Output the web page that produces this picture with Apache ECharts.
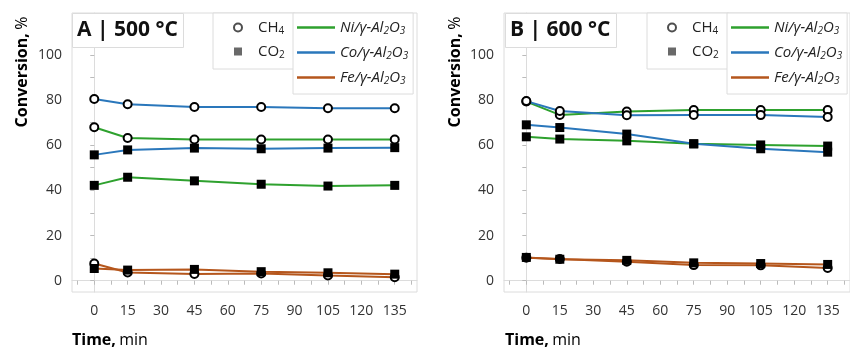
<!DOCTYPE html>
<html>
<head>
<meta charset="utf-8">
<style>
  html, body { margin: 0; padding: 0; background: #fff; }
  #main { width: 850px; height: 350px; }
</style>
</head>
<body>
<div id="main"></div>
<script src="https://cdn.jsdelivr.net/npm/echarts@6/dist/echarts.min.js"></script>
<script type="text/javascript">
    // time points, min
    var times = [0, 15, 45, 75, 105, 135];
    var xTickLabels = [0, 15, 30, 45, 60, 75, 90, 105, 120, 135];
    var yTickLabels = [0, 20, 40, 60, 80, 100];

    // A | 500 °C
    var niCH4_A = [67.9, 63.2, 62.5, 62.5, 62.5, 62.5];
    var niCO2_A = [42.2, 45.8, 44.2, 42.7, 41.9, 42.2];
    var coCH4_A = [80.4, 78.1, 76.9, 76.9, 76.3, 76.3];
    var coCO2_A = [55.7, 57.9, 58.7, 58.4, 58.7, 58.9];
    var feCH4_A = [7.6, 3.6, 3.0, 3.2, 2.3, 1.5];
    var feCO2_A = [5.4, 4.7, 5.0, 4.0, 3.5, 2.9];

    // B | 600 °C
    var niCH4_B = [79.3, 73.4, 74.9, 75.6, 75.6, 75.6];
    var niCO2_B = [63.7, 62.7, 61.9, 60.6, 60.1, 59.6];
    var coCH4_B = [79.5, 75.1, 73.2, 73.4, 73.3, 72.5];
    var coCO2_B = [69.0, 67.8, 64.9, 60.6, 58.4, 56.9];
    var feCH4_B = [10.2, 9.6, 8.4, 6.9, 6.8, 5.6];
    var feCO2_B = [10.3, 9.5, 9.0, 7.9, 7.6, 7.2];

    var GREEN = '#2ea12e', BLUE = '#2a77bb', BROWN = '#b5561c';
    var FONT = 'Open Sans';

    function pairs(ys) {
        return times.map(function (t, i) { return [t, ys[i]]; });
    }

    function dataSeries(name, ys, color, gas, idx) {
        return {
            name: name,
            type: 'line',
            xAxisIndex: idx,
            yAxisIndex: idx,
            data: pairs(ys),
            symbol: gas == 'CH4' ? 'circle' : 'rect',
            symbolSize: gas == 'CH4' ? 8 : 9,
            lineStyle: { color: color, width: 2 },
            itemStyle: gas == 'CH4'
                ? { color: '#fff', borderColor: '#000', borderWidth: 2 }
                : { color: '#000', borderColor: '#000', borderWidth: 0 },
            emphasis: { disabled: true },
            animation: false
        };
    }

    // dummy series only for the legends
    function legendLine(name, color) {
        return { name: name, type: 'line', data: [], symbol: 'none',
                 lineStyle: { color: color, width: 2.5 }, itemStyle: { color: color } };
    }
    function legendMark(name, symbol) {
        return { name: name, type: 'scatter', data: [], symbol: symbol,
                 itemStyle: symbol == 'rect'
                     ? { color: '#444' }
                     : { color: '#fff', borderColor: '#222', borderWidth: 1.5 } };
    }

    var richLegend = {
        i: { fontStyle: 'italic', fontSize: 15, fontFamily: FONT, color: '#222', lineHeight: 18 },
        s: { fontStyle: 'italic', fontSize: 10, fontFamily: FONT, color: '#222', padding: [7, 0, 0, 0] },
        n: { fontSize: 15, fontFamily: FONT, color: '#222', lineHeight: 18 },
        m: { fontSize: 10, fontFamily: FONT, color: '#222', padding: [7, 0, 0, 0] }
    };
    function legendFmt(name) {
        if (name == 'CH4') return '{n|CH}{m|4}';
        if (name == 'CO2') return '{n|CO}{m|2}';
        return '{i|' + name + '/γ-Al}{s|2}{i|O}{s|3}';
    }

    function markLegend(left) {
        return {
            left: left, top: 13, width: 80,
            orient: 'vertical',
            padding: [7, 10, 9, 20],
            itemGap: 8,
            itemWidth: 8, itemHeight: 8,
            backgroundColor: '#fff',
            borderColor: '#dcdcdc', borderWidth: 1, borderRadius: 0,
            selectedMode: false,
            data: [{ name: 'CH4', icon: 'circle' }, { name: 'CO2', icon: 'rect' }],
            formatter: legendFmt,
            textStyle: { padding: [0, 0, 0, 11], rich: richLegend }
        };
    }
    function lineLegend(left) {
        return {
            left: left, top: 13,
            orient: 'vertical',
            padding: [7, 5, 8, 4],
            itemGap: 9,
            itemWidth: 38, itemHeight: 2.5,
            icon: 'rect',
            backgroundColor: '#fff',
            borderColor: '#dcdcdc', borderWidth: 1, borderRadius: 0,
            selectedMode: false,
            data: ['Ni', 'Co', 'Fe'],
            formatter: legendFmt,
            textStyle: { padding: [0, 0, 0, 0], rich: richLegend }
        };
    }

    function xAxis(idx) {
        return {
            type: 'value', gridIndex: idx, min: -10, max: 145,
            axisLine: { show: true, lineStyle: { color: '#dcdcdc' } },
            axisTick: { show: true, length: 4, lineStyle: { color: '#bbb' },
                        customValues: [-7.5, 0, 7.5, 15, 22.5, 30, 37.5, 45, 52.5, 60, 67.5, 75, 82.5, 90, 97.5, 105, 112.5, 120, 127.5, 135, 142.5] },
            axisLabel: { customValues: xTickLabels, color: '#333', fontSize: 14, fontFamily: FONT, margin: 12 },
            splitLine: { show: false }
        };
    }
    function yAxis(idx) {
        return {
            type: 'value', gridIndex: idx, min: -5, max: 118.5,
            axisLine: { show: true, lineStyle: { color: '#dcdcdc' } },
            axisTick: { show: true, length: 4, lineStyle: { color: '#bbb' },
                        customValues: [0, 10, 20, 30, 40, 50, 60, 70, 80, 90, 100, 110] },
            axisLabel: { customValues: yTickLabels, color: '#333', fontSize: 14, fontFamily: FONT, margin: 10 },
            splitLine: { show: false }
        };
    }

    function axisTitle(x, y, bold, rest, rotate) {
        return {
            type: 'text', x: x, y: y, rotation: rotate ? Math.PI / 2 : 0,
            style: {
                text: '{b|' + bold + '} {r|' + rest + '}',
                align: rotate ? 'center' : 'left', verticalAlign: 'middle',
                rich: {
                    b: { fontWeight: 'bold', fontSize: 16, fontFamily: FONT, color: '#111' },
                    r: { fontSize: 16, fontFamily: FONT, color: '#111' }
                }
            }
        };
    }

    var myChart = echarts.init(document.getElementById('main'));
    var option = {
        animation: false,
        backgroundColor: '#fff',
        title: [
            { text: 'A | 500 °C', left: 72, top: 13, padding: [7, 6, 7, 5],
              backgroundColor: '#fff', borderColor: '#dcdcdc', borderWidth: 1,
              textStyle: { fontSize: 21, fontWeight: 'bold', fontFamily: FONT, color: '#111' } },
            { text: 'B | 600 °C', left: 505, top: 13, padding: [7, 6, 7, 5],
              backgroundColor: '#fff', borderColor: '#dcdcdc', borderWidth: 1,
              textStyle: { fontSize: 21, fontWeight: 'bold', fontFamily: FONT, color: '#111' } }
        ],
        legend: [markLegend(213), lineLegend(293), markLegend(647), lineLegend(727)],
        grid: [
            { left: 72, top: 13, width: 345, height: 279, show: true, borderColor: '#dcdcdc', borderWidth: 1 },
            { left: 504, top: 13, width: 348, height: 279, show: true, borderColor: '#dcdcdc', borderWidth: 1 }
        ],
        xAxis: [xAxis(0), xAxis(1)],
        yAxis: [yAxis(0), yAxis(1)],
        graphic: [
            axisTitle(22, 72, 'Conversion,', '%', true),
            axisTitle(455, 72, 'Conversion,', '%', true),
            axisTitle(72, 340, 'Time,', 'min', false),
            axisTitle(505, 340, 'Time,', 'min', false)
        ],
        series: [
            legendMark('CH4', 'emptyCircle'),
            legendMark('CO2', 'rect'),
            legendLine('Ni', GREEN),
            legendLine('Co', BLUE),
            legendLine('Fe', BROWN),

            dataSeries('Ni CH4 A', niCH4_A, GREEN, 'CH4', 0),
            dataSeries('Ni CO2 A', niCO2_A, GREEN, 'CO2', 0),
            dataSeries('Co CH4 A', coCH4_A, BLUE, 'CH4', 0),
            dataSeries('Co CO2 A', coCO2_A, BLUE, 'CO2', 0),
            dataSeries('Fe CH4 A', feCH4_A, BROWN, 'CH4', 0),
            dataSeries('Fe CO2 A', feCO2_A, BROWN, 'CO2', 0),

            dataSeries('Ni CH4 B', niCH4_B, GREEN, 'CH4', 1),
            dataSeries('Ni CO2 B', niCO2_B, GREEN, 'CO2', 1),
            dataSeries('Co CH4 B', coCH4_B, BLUE, 'CH4', 1),
            dataSeries('Co CO2 B', coCO2_B, BLUE, 'CO2', 1),
            dataSeries('Fe CH4 B', feCH4_B, BROWN, 'CH4', 1),
            dataSeries('Fe CO2 B', feCO2_B, BROWN, 'CO2', 1)
        ]
    };
    myChart.setOption(option);
</script>
</body>
</html>
